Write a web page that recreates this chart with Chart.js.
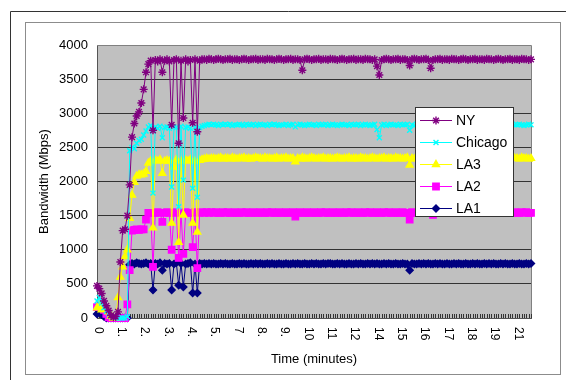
<!DOCTYPE html>
<html>
<head>
<meta charset="utf-8">
<script src="https://cdn.jsdelivr.net/npm/chart.js@4/dist/chart.umd.min.js"></script>
<style>
  html, body { margin: 0; padding: 0; background: #fff; }
  canvas { display: block; }
</style>
</head>
<body>
<canvas id="bwChart" width="566" height="380"></canvas>
<script>
// x tick labels (shown every 10 samples)
const tickLabels = ['0', '1.', '2.', '3.', '4.', '5.', '7', '8.', '9.', '10', '11', '12', '14', '15', '16', '17', '18', '19', '21'];
const tickEvery = 10;

// Bandwidth (Mbps), one value per sample
const NY = [
  470, 430, 360, 250, 180, 110, 40, 10, 20, 90,
  820, 1280, 1300, 1500, 1950, 2650, 2850, 2960, 3020, 3150,
  3350, 3600, 3720, 3770, 2750, 3780, 3760, 3790, 3600, 3770,
  3790, 3760, 2830, 3780, 3790, 2560, 3770, 2930, 3790, 3760,
  3780, 2860, 3790, 2730, 3770, 3790, 3790, 3780, 3800, 3790,
  3780, 3790, 3800, 3790, 3780, 3790, 3790, 3800, 3780, 3790,
  3790, 3780, 3790, 3800, 3790, 3780, 3790, 3790, 3800, 3780,
  3790, 3790, 3780, 3800, 3790, 3790, 3780, 3790, 3800, 3790,
  3780, 3790, 3790, 3800, 3780, 3790, 3790, 3780, 3630, 3790,
  3800, 3790, 3780, 3790, 3790, 3800, 3780, 3790, 3790, 3780,
  3800, 3790, 3790, 3780, 3790, 3800, 3790, 3780, 3790, 3790,
  3800, 3780, 3790, 3790, 3780, 3800, 3790, 3790, 3780, 3790,
  3690, 3560, 3780, 3790, 3800, 3790, 3780, 3790, 3790, 3800,
  3780, 3790, 3790, 3780, 3700, 3790, 3800, 3790, 3780, 3790,
  3790, 3800, 3780, 3660, 3780, 3790, 3790, 3800, 3780, 3790,
  3790, 3780, 3800, 3790, 3790, 3780, 3790, 3800, 3790, 3780,
  3790, 3790, 3800, 3780, 3790, 3790, 3780, 3800, 3790, 3790,
  3780, 3790, 3800, 3790, 3780, 3790, 3790, 3800, 3780, 3790,
  3790, 3780, 3800, 3790, 3790, 3780, 3790
];
const Chicago = [
  250, 300, 220, 150, 100, 60, 30, 10, 0, 0,
  0, 0, 0, 20, 2450, 2500, 2480, 2560, 2600, 2620,
  2680, 2740, 2800, 2820, 1830, 2800, 2780, 2810, 2640, 2790,
  2800, 2780, 1920, 2800, 2790, 1630, 2810, 2020, 2790, 2800,
  2780, 1900, 2800, 1770, 2790, 2810, 2820, 2830, 2840, 2830,
  2840, 2830, 2820, 2840, 2830, 2840, 2830, 2840, 2820, 2830,
  2830, 2840, 2830, 2820, 2840, 2830, 2830, 2840, 2820, 2830,
  2840, 2830, 2830, 2820, 2840, 2830, 2840, 2830, 2820, 2830,
  2830, 2840, 2820, 2830, 2840, 2800, 2830, 2840, 2830, 2820,
  2830, 2840, 2830, 2830, 2820, 2840, 2830, 2830, 2840, 2820,
  2830, 2840, 2830, 2820, 2830, 2840, 2830, 2830, 2820, 2840,
  2830, 2830, 2840, 2820, 2830, 2840, 2830, 2820, 2830, 2840,
  2760, 2640, 2830, 2840, 2820, 2830, 2840, 2830, 2830, 2820,
  2840, 2830, 2830, 2840, 2750, 2830, 2820, 2840, 2830, 2830,
  2840, 2820, 2830, 2830, 2840, 2830, 2820, 2840, 2830, 2830,
  2820, 2840, 2830, 2830, 2840, 2820, 2830, 2840, 2830, 2830,
  2840, 2820, 2830, 2830, 2840, 2830, 2820, 2840, 2830, 2830,
  2830, 2840, 2820, 2830, 2840, 2830, 2830, 2820, 2840, 2830,
  2830, 2840, 2830, 2820, 2830, 2840, 2830
];
const LA3 = [
  150, 180, 120, 160, 140, 90, 30, 0, 0, 300,
  600, 750, 900, 1000, 1460, 1800, 1990, 2080, 2100, 2100,
  2110, 2150, 2270, 2300, 1320, 2310, 2300, 2320, 2120, 2300,
  2310, 2300, 1390, 2210, 2320, 1110, 2300, 1510, 2310, 2300,
  2320, 1390, 2300, 1260, 2310, 2320, 2330, 2340, 2330, 2340,
  2340, 2330, 2340, 2350, 2330, 2340, 2340, 2330, 2350, 2340,
  2330, 2340, 2340, 2350, 2330, 2340, 2330, 2340, 2350, 2340,
  2340, 2330, 2350, 2340, 2340, 2330, 2340, 2350, 2330, 2340,
  2340, 2350, 2330, 2340, 2340, 2290, 2340, 2330, 2350, 2340,
  2330, 2340, 2350, 2340, 2330, 2340, 2340, 2350, 2330, 2340,
  2340, 2330, 2340, 2350, 2340, 2330, 2340, 2340, 2350, 2330,
  2340, 2340, 2330, 2350, 2340, 2340, 2330, 2340, 2350, 2340,
  2330, 2340, 2340, 2350, 2330, 2340, 2340, 2330, 2350, 2340,
  2340, 2330, 2340, 2350, 2240, 2340, 2330, 2340, 2350, 2340,
  2330, 2340, 2350, 2340, 2340, 2330, 2340, 2350, 2340, 2330,
  2340, 2350, 2340, 2330, 2340, 2340, 2350, 2330, 2340, 2340,
  2350, 2340, 2330, 2340, 2340, 2350, 2330, 2340, 2340, 2350,
  2340, 2330, 2340, 2350, 2340, 2340, 2330, 2340, 2350, 2340,
  2340, 2330, 2350, 2340, 2340, 2330, 2340
];
const LA2 = [
  160, 170, 150, 120, 60, 10, 0, 0, 0, 0,
  0, 0, 0, 200, 700, 1280, 1290, 1300, 1290, 1300,
  1300, 1440, 1540, 1540, 750, 1540, 1550, 1540, 1410, 1540,
  1550, 1540, 1000, 1540, 1550, 880, 1540, 940, 1550, 1540,
  1540, 1040, 1550, 730, 1540, 1550, 1540, 1550, 1540, 1550,
  1540, 1550, 1540, 1540, 1550, 1540, 1550, 1540, 1540, 1550,
  1540, 1540, 1550, 1540, 1550, 1540, 1540, 1550, 1540, 1540,
  1550, 1540, 1540, 1550, 1540, 1550, 1540, 1540, 1550, 1540,
  1540, 1550, 1540, 1540, 1550, 1485, 1540, 1550, 1540, 1540,
  1550, 1540, 1540, 1550, 1540, 1540, 1550, 1540, 1550, 1540,
  1540, 1550, 1540, 1540, 1550, 1540, 1540, 1550, 1540, 1550,
  1540, 1540, 1550, 1540, 1540, 1550, 1540, 1550, 1540, 1540,
  1550, 1540, 1540, 1550, 1540, 1550, 1540, 1540, 1550, 1540,
  1540, 1550, 1540, 1540, 1440, 1550, 1540, 1540, 1550, 1540,
  1550, 1540, 1540, 1550, 1510, 1540, 1550, 1540, 1540, 1550,
  1540, 1540, 1550, 1540, 1550, 1540, 1540, 1550, 1540, 1540,
  1550, 1540, 1540, 1550, 1540, 1550, 1540, 1540, 1550, 1540,
  1540, 1550, 1540, 1540, 1550, 1540, 1550, 1540, 1540, 1550,
  1540, 1540, 1550, 1540, 1550, 1540, 1540
];
const LA1 = [
  60, 100, 50, 20, 0, 0, 0, 0, 0, 0,
  0, 0, 0, 0, 780, 800, 790, 810, 800, 790,
  800, 810, 790, 800, 410, 800, 790, 810, 700, 800,
  790, 800, 410, 790, 810, 480, 800, 455, 790, 800,
  810, 365, 790, 365, 800, 790, 800, 790, 800, 790,
  800, 790, 790, 800, 790, 800, 790, 790, 800, 790,
  790, 800, 790, 800, 790, 790, 800, 790, 800, 790,
  800, 790, 790, 800, 790, 800, 790, 790, 800, 790,
  790, 800, 790, 790, 800, 790, 800, 790, 790, 800,
  790, 790, 800, 790, 800, 790, 790, 800, 790, 800,
  800, 790, 790, 800, 790, 800, 790, 790, 800, 790,
  790, 800, 790, 800, 790, 790, 800, 790, 800, 790,
  800, 790, 790, 800, 790, 800, 790, 790, 800, 790,
  790, 800, 790, 790, 700, 800, 790, 790, 800, 790,
  800, 790, 800, 790, 790, 800, 790, 800, 790, 790,
  800, 790, 790, 800, 790, 800, 790, 790, 800, 790,
  790, 800, 790, 800, 790, 790, 800, 790, 800, 790,
  800, 790, 790, 800, 790, 800, 790, 790, 800, 790,
  790, 800, 790, 790, 800, 790, 800
];

const FONT = '"Liberation Sans", Arial, sans-serif';
const samples = NY.map((_, i) => i);

function series(label, values, color, style, radius) {
  return {
    label: label,
    data: values,
    borderColor: color,
    backgroundColor: color,
    borderWidth: 1,
    pointStyle: style,
    pointRadius: radius,
    pointBorderWidth: 1.4,
    pointBackgroundColor: color,
    pointBorderColor: color,
    tension: 0,
    clip: false
  };
}

// page frame + grey plot background
const framePlugin = {
  id: 'frame',
  beforeDraw(chart) {
    const ctx = chart.ctx;
    const a = chart.chartArea;
    ctx.save();
    ctx.fillStyle = '#fff';
    ctx.fillRect(0, 0, chart.width, chart.height);
    ctx.strokeStyle = '#333';
    ctx.lineWidth = 1;
    ctx.beginPath();
    ctx.moveTo(566, 11.5);
    ctx.lineTo(10.5, 11.5);
    ctx.lineTo(10.5, 380);
    ctx.stroke();
    ctx.strokeStyle = '#8c8c8c';
    ctx.strokeRect(25.5, 22.5, 535, 352);
    ctx.fillStyle = '#c0c0c0';
    ctx.fillRect(a.left, a.top, a.right - a.left, a.bottom - a.top);
    ctx.restore();
  },
  beforeDatasetsDraw(chart) {
    const ctx = chart.ctx;
    const a = chart.chartArea;
    const x = chart.scales.x;
    ctx.save();
    ctx.strokeStyle = '#808080';
    ctx.lineWidth = 1;
    ctx.beginPath();
    ctx.moveTo(a.left, Math.round(a.top) + 0.5);
    ctx.lineTo(Math.round(a.right) + 0.5, Math.round(a.top) + 0.5);
    ctx.lineTo(Math.round(a.right) + 0.5, a.bottom);
    ctx.stroke();
    // small inner tick marks along the category axis
    ctx.strokeStyle = '#333';
    ctx.beginPath();
    samples.forEach(i => {
      const px = Math.round(x.getPixelForValue(i)) + 0.5;
      ctx.moveTo(px, a.bottom);
      ctx.lineTo(px, a.bottom - 4);
    });
    ctx.stroke();
    // x tick labels, rotated to read top-down
    ctx.fillStyle = '#000';
    ctx.font = '12px ' + FONT;
    ctx.textAlign = 'left';
    ctx.textBaseline = 'middle';
    tickLabels.forEach((t, k) => {
      const px = x.getPixelForValue(k * tickEvery);
      ctx.save();
      ctx.translate(px + 1, 327);
      ctx.rotate(Math.PI / 2);
      ctx.fillText(t, 0, 0);
      ctx.restore();
    });
    ctx.restore();
  },
  afterDraw(chart) {
    // legend box inside plot
    const ctx = chart.ctx;
    const bx = 415, by = 107, bw = 98, bh = 109;
    ctx.save();
    ctx.fillStyle = '#fff';
    ctx.fillRect(bx, by, bw, bh);
    ctx.strokeStyle = '#333';
    ctx.lineWidth = 1;
    ctx.strokeRect(bx + 0.5, by + 0.5, bw, bh);
    ctx.font = '14px ' + FONT;
    ctx.textBaseline = 'middle';
    chart.data.datasets.forEach((ds, k) => {
      const y = by + 13 + k * 22;
      ctx.strokeStyle = ds.borderColor;
      ctx.fillStyle = ds.borderColor;
      ctx.lineWidth = 1;
      ctx.beginPath();
      ctx.moveTo(bx + 5, y + 0.5);
      ctx.lineTo(bx + 37, y + 0.5);
      ctx.stroke();
      ctx.lineWidth = ds.pointBorderWidth;
      Chart.helpers.drawPoint(ctx, {pointStyle: ds.pointStyle, radius: ds.pointRadius, borderWidth: ds.pointBorderWidth, rotation: 0}, bx + 21, y + 0.5);
      ctx.fillStyle = '#000';
      ctx.fillText(ds.label, bx + 41, y + 1);
    });
    ctx.restore();
  }
};

new Chart(document.getElementById('bwChart'), {
  type: 'line',
  data: {
    labels: samples,
    datasets: [
      series('NY', NY, '#800080', 'star', 4),
      series('Chicago', Chicago, '#00ffff', 'crossRot', 3.5),
      series('LA3', LA3, '#ffff00', 'triangle', 4),
      series('LA2', LA2, '#ff00ff', 'rect', 4.5),
      series('LA1', LA1, '#000080', 'rectRot', 3.5)
    ]
  },
  plugins: [framePlugin],
  options: {
    responsive: false,
    animation: false,
    devicePixelRatio: 1,
    layout: { padding: { left: 0, top: 45, right: 35, bottom: 0 } },
    plugins: { legend: { display: false }, tooltip: { enabled: false } },
    scales: {
      x: {
        grid: { display: false },
        border: { display: true, color: '#555', width: 1 },
        ticks: { display: false, autoSkip: false },
        afterFit(s) { s.height = 62; },
        title: { display: true, text: 'Time (minutes)', color: '#000', font: { family: FONT, size: 13 }, padding: { top: 0, bottom: 13 } }
      },
      y: {
        min: 0,
        max: 4000,
        ticks: { stepSize: 500, color: '#000', padding: 9, font: { family: FONT, size: 13 }, callback: v => String(v) },
        grid: {
          drawTicks: false,
          color: c => (c.tick.value === 4000 ? '#808080' : '#333'),
          lineWidth: 1
        },
        border: { display: true, color: '#555', width: 1 },
        afterFit(s) { s.width = 97; },
        title: { display: true, text: 'Bandwidth (Mbps)', color: '#000', font: { family: FONT, size: 13 }, padding: { top: 37, bottom: 0 } }
      }
    }
  }
});
</script>
</body>
</html>
